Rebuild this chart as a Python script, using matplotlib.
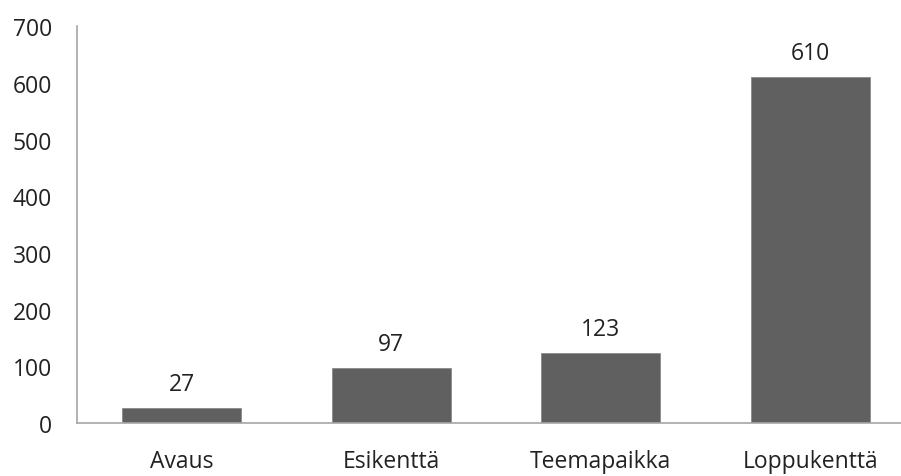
import matplotlib.pyplot as plt

plt.rcParams['font.family'] = ['Open Sans', 'DejaVu Sans']

categories = ['Avaus', 'Esikenttä', 'Teemapaikka', 'Loppukenttä']
values = [27, 97, 123, 610]
yticks = [0, 100, 200, 300, 400, 500, 600, 700]

fig = plt.figure(figsize=(9.01, 4.77), dpi=100)
# plot area runs slightly past the right edge of the canvas
ax = fig.add_axes([0.0855, 0.111, 0.930, 0.832])

x = range(len(categories))
ax.bar(x, values, width=0.57, color='#606060', edgecolor='#8a8a8a', linewidth=0.6)

for xi, v in zip(x, values):
    ax.annotate(str(v), (xi, v), xytext=(0, 13), textcoords='offset points',
                ha='center', va='baseline', fontsize=16.5, color='#222222')

ax.set_xlim(-0.5, len(categories) - 0.5)
ax.set_ylim(0, 700)
ax.set_yticks(yticks)
ax.set_xticks(list(x))
ax.set_xticklabels(categories)

for side in ['top', 'right']:
    ax.spines[side].set_visible(False)
for side in ['left', 'bottom']:
    ax.spines[side].set_color('#a6a6a6')
    ax.spines[side].set_linewidth(1.2)

ax.tick_params(axis='y', length=0, pad=18, labelsize=16.5, labelcolor='#222222')
ax.tick_params(axis='x', length=0, pad=19, labelsize=16.5, labelcolor='#222222')

fig.savefig('out.png', dpi=100)
